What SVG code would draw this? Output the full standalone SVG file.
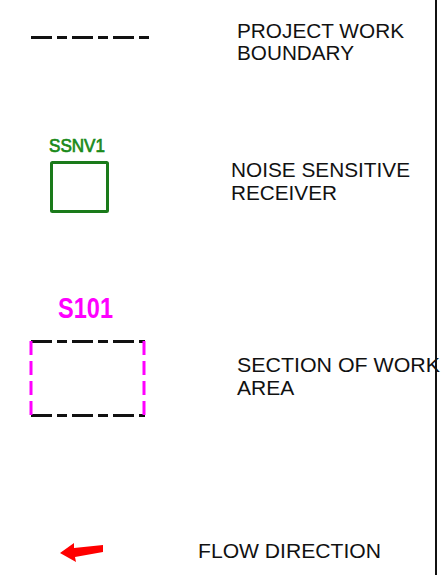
<svg xmlns="http://www.w3.org/2000/svg" width="446" height="575" viewBox="0 0 446 575">
<style>
.lbl{font-family:"Liberation Sans",Arial,sans-serif;font-size:21px;fill:#111}
.bnd{stroke:#111;stroke-width:3;fill:none;stroke-dasharray:21 5 10 5}
.mag{stroke:#ff00ff;stroke-width:3;fill:none;stroke-dasharray:14 6}
</style>
<rect width="446" height="575" fill="#fff"/>
<g id="boundary">
<line class="bnd" x1="31" y1="37.5" x2="151" y2="37.5"/>
<text class="lbl" x="237" y="38" textLength="167" lengthAdjust="spacingAndGlyphs">PROJECT WORK</text>
<text class="lbl" x="237" y="60" textLength="117" lengthAdjust="spacingAndGlyphs">BOUNDARY</text>
</g>
<g id="receiver">
<text x="49" y="152" font-family="Liberation Sans, Arial, sans-serif" font-size="18" fill="#1a8a1a" stroke="#1a8a1a" stroke-width="0.7" textLength="56" lengthAdjust="spacingAndGlyphs">SSNV1</text>
<rect x="51.5" y="162.5" width="56" height="49" fill="none" stroke="#1a7a1a" stroke-width="3" rx="1"/>
<text class="lbl" x="231" y="177" textLength="179" lengthAdjust="spacingAndGlyphs">NOISE SENSITIVE</text>
<text class="lbl" x="231" y="200" textLength="106" lengthAdjust="spacingAndGlyphs">RECEIVER</text>
</g>
<g id="section">
<text x="58" y="318" font-family="Liberation Sans, Arial, sans-serif" font-size="29" font-weight="bold" fill="#ff00ff" textLength="55" lengthAdjust="spacingAndGlyphs">S101</text>
<line class="bnd" x1="31" y1="341.5" x2="145" y2="341.5"/>
<line class="bnd" x1="31" y1="415.5" x2="145" y2="415.5"/>
<line class="mag" x1="31" y1="341" x2="31" y2="417"/>
<line class="mag" x1="144" y1="341" x2="144" y2="417"/>
<text class="lbl" x="237" y="372" textLength="203" lengthAdjust="spacingAndGlyphs">SECTION OF WORK</text>
<text class="lbl" x="237" y="395">AREA</text>
</g>
<g id="flow">
<polygon points="60,553 74,543 74,548 103,545 103,552 75,557 76,562" fill="#ff0000"/>
<text class="lbl" x="198" y="558" textLength="183" lengthAdjust="spacingAndGlyphs">FLOW DIRECTION</text>
</g>
<g id="connectors">
<line x1="436" y1="0" x2="436" y2="575" stroke="#111" stroke-width="2"/>
</g>
</svg>
